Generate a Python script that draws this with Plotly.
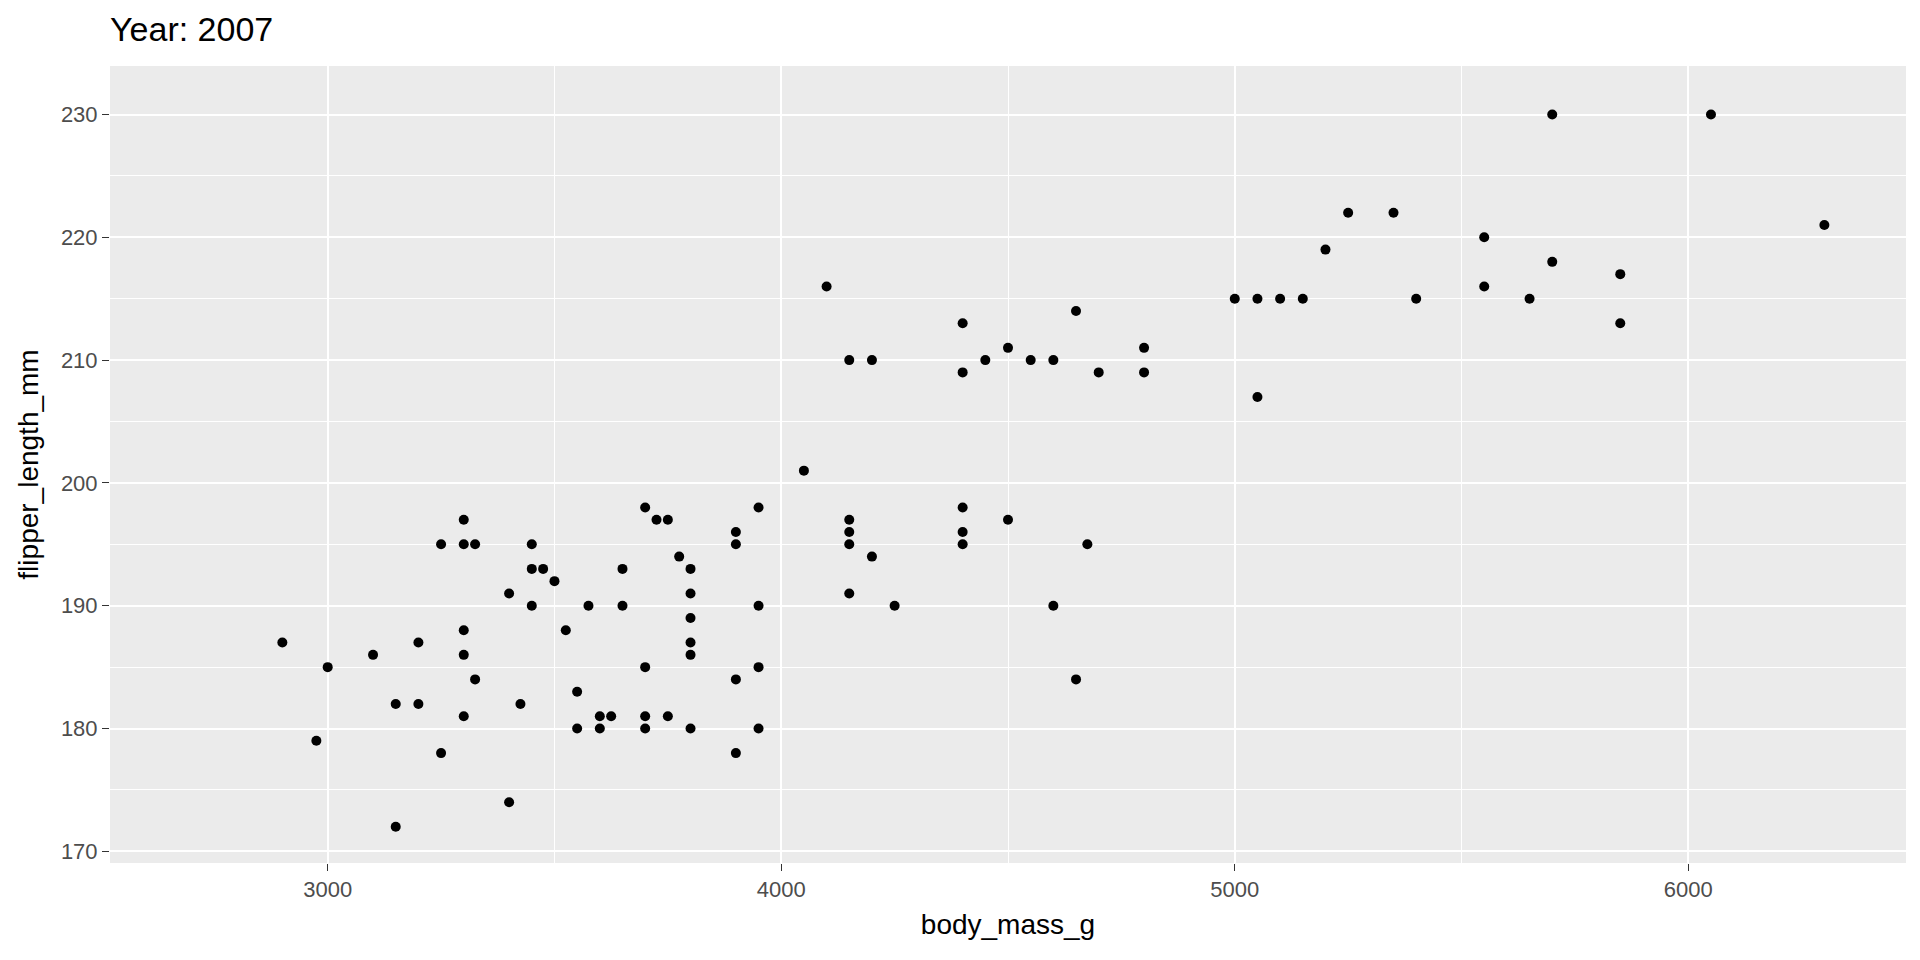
import plotly.graph_objects as go

# Data (Palmer penguins, year 2007)
body_mass_g = [
    2900, 2975, 3000, 3100, 3150, 3150, 3200, 3200, 3250, 3250,
    3300, 3300, 3300, 3300, 3300, 3325, 3325, 3400, 3400, 3425,
    3450, 3450, 3450, 3475, 3500, 3525, 3550, 3550, 3575, 3600,
    3600, 3625, 3650, 3650, 3700, 3700, 3700, 3700, 3725, 3750,
    3750, 3775, 3800, 3800, 3800, 3800, 3800, 3800, 3900, 3900,
    3900, 3900, 3950, 3950, 3950, 3950, 4050, 4100, 4150, 4150,
    4150, 4150, 4150, 4200, 4200, 4250, 4400, 4400, 4400, 4400,
    4400, 4450, 4500, 4500, 4550, 4600, 4600, 4650, 4650, 4675,
    4700, 4800, 4800, 5000, 5050, 5050, 5100, 5150, 5200, 5250,
    5350, 5400, 5550, 5550, 5650, 5700, 5700, 5850, 5850, 6050,
    6300,
]
flipper_length_mm = [
    187, 179, 185, 186, 182, 172, 187, 182, 195, 178,
    197, 195, 188, 186, 181, 195, 184, 191, 174, 182,
    195, 193, 190, 193, 192, 188, 183, 180, 190, 181,
    180, 181, 193, 190, 198, 185, 181, 180, 197, 197,
    181, 194, 193, 191, 189, 187, 186, 180, 196, 195,
    184, 178, 198, 190, 185, 180, 201, 216, 210, 197,
    196, 195, 191, 210, 194, 190, 213, 209, 198, 196,
    195, 210, 211, 197, 210, 210, 190, 214, 184, 195,
    209, 211, 209, 215, 215, 207, 215, 215, 219, 222,
    222, 215, 220, 216, 215, 230, 218, 217, 213, 230,
    221,
]
title_text = "Year: 2007"
x_label = "body_mass_g"
y_label = "flipper_length_mm"
x_ticks = [3000, 4000, 5000, 6000]
y_ticks = [170, 180, 190, 200, 210, 220, 230]

FONT = "Arial, 'Liberation Sans', sans-serif"

fig = go.Figure(
    go.Scatter(
        x=body_mass_g,
        y=flipper_length_mm,
        mode="markers",
        marker=dict(color="black", size=10, line=dict(width=0)),
        hoverinfo="x+y",
    )
)

axis_common = dict(
    showgrid=True,
    gridcolor="white",
    gridwidth=2.2,
    zeroline=False,
    showline=False,
    ticks="outside",
    ticklen=7,
    tickwidth=1.1,
    tickcolor="#333333",
    tickfont=dict(family=FONT, size=22, color="#4D4D4D"),
)

fig.update_layout(
    width=1920,
    height=960,
    paper_bgcolor="white",
    plot_bgcolor="#EBEBEB",
    margin=dict(l=110, r=14, t=66, b=97),
    showlegend=False,
    font=dict(family=FONT, color="black"),
    title=dict(
        text=title_text,
        font=dict(family=FONT, size=34, color="black"),
        x=0, xref="paper", xanchor="left",
        y=1 - 29 / 960, yref="container", yanchor="middle",
    ),
    xaxis=dict(
        range=[2520, 6480],
        tickvals=x_ticks,
        minor=dict(dtick=500, tick0=0, showgrid=True, gridcolor="white", gridwidth=1.1, ticks=""),
        title=dict(text=x_label, font=dict(family=FONT, size=28, color="black"), standoff=12),
        **axis_common,
    ),
    yaxis=dict(
        range=[169.05, 233.95],
        tickvals=y_ticks,
        minor=dict(dtick=5, tick0=0, showgrid=True, gridcolor="white", gridwidth=1.1, ticks=""),
        title=dict(text=y_label, font=dict(family=FONT, size=28, color="black"), standoff=14),
        **axis_common,
    ),
)

fig.write_html(
    "out.html",
    config={"displayModeBar": False},
    post_script="document.body.style.margin='0';document.body.style.overflow='hidden';",
)
